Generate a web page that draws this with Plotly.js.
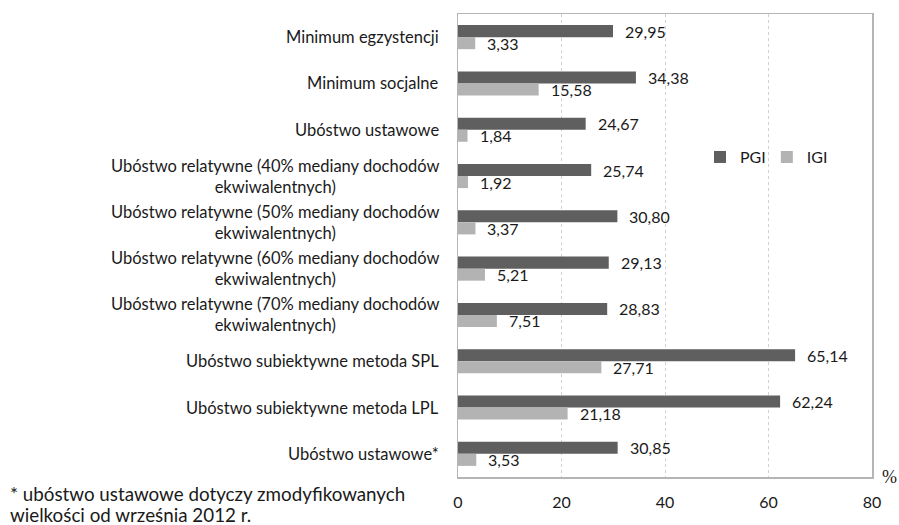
<!DOCTYPE html>
<html><head><meta charset="utf-8">
<script src="https://cdn.plot.ly/plotly-3.0.1.min.js"></script>
<style>body{margin:0;background:#fff}#c{width:899px;height:525px}</style>
</head><body><div id="c"></div>
<script>
var categories = [
  "Minimum egzystencji",
  "Minimum socjalne",
  "Ubóstwo ustawowe",
  "Ubóstwo relatywne (40% mediany dochodów<br>ekwiwalentnych)",
  "Ubóstwo relatywne (50% mediany dochodów<br>ekwiwalentnych)",
  "Ubóstwo relatywne (60% mediany dochodów<br>ekwiwalentnych)",
  "Ubóstwo relatywne (70% mediany dochodów<br>ekwiwalentnych)",
  "Ubóstwo subiektywne metoda SPL",
  "Ubóstwo subiektywne metoda LPL",
  "Ubóstwo ustawowe*"
];
var pgi = [29.95, 34.38, 24.67, 25.74, 30.80, 29.13, 28.83, 65.14, 62.24, 30.85];
var igi = [3.33, 15.58, 1.84, 1.92, 3.37, 5.21, 7.51, 27.71, 21.18, 3.53];
var xTicks = [0, 20, 40, 60, 80];
var footnoteLines = ["* ubóstwo ustawowe dotyczy zmodyfikowanych", "wielkości od września 2012 r."];

var FONT = "Lato, 'Open Sans', sans-serif";
function fmt(v){ return v.toFixed(2).replace('.', ','); }

var traces = [
  {type:'bar', orientation:'h', name:'PGI', x:pgi, y:categories,
   marker:{color:'#5f5f5f'}, hoverinfo:'x', legend:'legend'},
  {type:'bar', orientation:'h', name:'IGI', x:igi, y:categories,
   marker:{color:'#b3b3b3'}, hoverinfo:'x', legend:'legend2'}
];

var ann = [];
categories.forEach(function(c, i){
  ann.push({xref:'paper', yref:'y', x:0, y:c, xanchor:'right', yanchor:'middle',
    xshift:-17, text:c, showarrow:false, align:'center',
    font:{family:FONT, size:16.5, color:'#1a1a1a'}});
  ann.push({xref:'x', yref:'y', x:pgi[i], y:c, xanchor:'left', yanchor:'middle',
    xshift:10, yshift:6, text:fmt(pgi[i]), showarrow:false,
    font:{family:FONT, size:16, color:'#1a1a1a'}});
  ann.push({xref:'x', yref:'y', x:igi[i], y:c, xanchor:'left', yanchor:'middle',
    xshift:10, yshift:-6, text:fmt(igi[i]), showarrow:false,
    font:{family:FONT, size:16, color:'#1a1a1a'}});
});
footnoteLines.forEach(function(t, k){
  ann.push({xref:'paper', yref:'paper', x:-1.087, y:[-0.036, -0.082][k],
    xanchor:'left', yanchor:'middle', text:t, showarrow:false, align:'left',
    font:{family:FONT, size:18.8, color:'#1a1a1a'}});
});
ann.push({xref:'paper', yref:'paper', x:1, y:0, xanchor:'left', yanchor:'middle',
  xshift:8, text:'%', showarrow:false,
  font:{family:"'Liberation Serif', serif", size:18, color:'#1a1a1a'}});

var legendStyle = function(x){
  return {orientation:'h', x:x, y:0.691, xanchor:'left', yanchor:'middle',
    font:{family:FONT, size:16, color:'#1a1a1a'}, bgcolor:'rgba(0,0,0,0)',
    itemwidth:30};
};

var layout = {
  width:899, height:525,
  margin:{l:458, r:27, t:14, b:48},
  paper_bgcolor:'#fff', plot_bgcolor:'#fff',
  barmode:'group', bargap:0.48, bargroupgap:0,
  showlegend:true,
  legend:legendStyle(0.5845),
  legend2:legendStyle(0.746),
  xaxis:{range:[0,80], tickvals:xTicks, ticktext:xTicks.map(String),
    showgrid:true, gridcolor:'#d0d0d0', griddash:'dot', gridwidth:1,
    zeroline:false, showline:true, linecolor:'#b5b5b5', linewidth:1.5, mirror:true,
    ticks:'', ticklabelstandoff:10,
    tickfont:{family:FONT, size:16, color:'#1a1a1a'}, fixedrange:true},
  yaxis:{type:'category', autorange:'reversed', showticklabels:false,
    showgrid:false, zeroline:false, showline:true, linecolor:'#b5b5b5', linewidth:1.5,
    mirror:true, ticks:'', fixedrange:true},
  annotations:ann
};
Plotly.newPlot('c', traces, layout, {displayModeBar:false, staticPlot:true});
</script></body></html>
